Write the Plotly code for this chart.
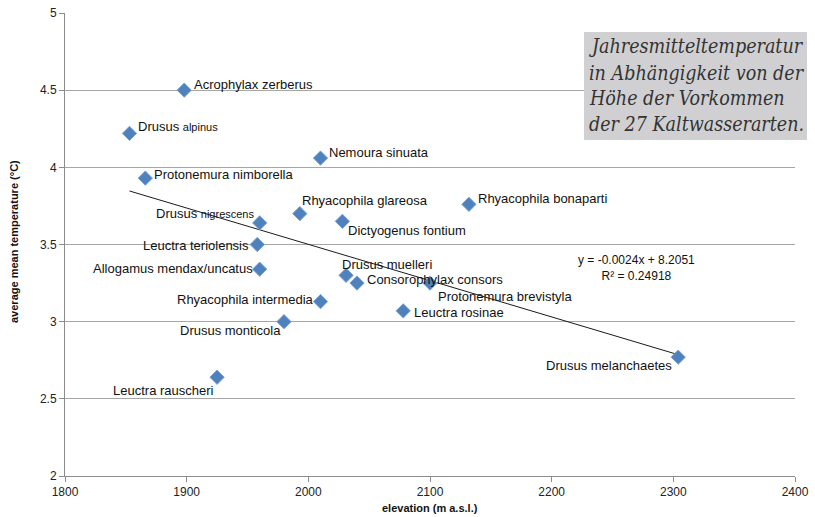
import plotly.graph_objects as go

# Species, elevation of occurrence (m a.s.l.) and average mean temperature (°C)
species = [
    "Acrophylax zerberus", "Drusus alpinus", "Protonemura nimborella",
    "Drusus nigrescens", "Leuctra teriolensis", "Allogamus mendax/uncatus",
    "Rhyacophila intermedia", "Drusus monticola", "Leuctra rauscheri",
    "Nemoura sinuata", "Rhyacophila glareosa", "Dictyogenus fontium",
    "Rhyacophila bonaparti", "Drusus muelleri", "Consorophylax consors",
    "Protonemura brevistyla", "Leuctra rosinae", "Drusus melanchaetes",
]
elevation = [1898, 1853, 1866, 1960, 1958, 1960, 2010, 1980, 1925,
             2010, 1993, 2028, 2132, 2031, 2040, 2100, 2078, 2304]
temperature = [4.50, 4.22, 3.93, 3.64, 3.50, 3.34, 3.13, 3.00, 2.64,
               4.06, 3.70, 3.65, 3.76, 3.30, 3.25, 3.25, 3.07, 2.77]

# Linear trend line
slope = -0.002352
intercept = 8.2051
r_squared = 0.24918

x_ticks = [1800, 1900, 2000, 2100, 2200, 2300, 2400]
y_ticks = [2, 2.5, 3, 3.5, 4, 4.5, 5]

caption_lines = [
    "Jahresmitteltemperatur",
    "in Abhängigkeit von der",
    "Höhe der Vorkommen",
    "der 27 Kaltwasserarten.",
]

# Label placement per species: (anchor side, xshift, yshift)
label_pos = {
    "Acrophylax zerberus": ("left", 8, 6),
    "Drusus alpinus": ("left", 7, 7),
    "Protonemura nimborella": ("left", 7, 4),
    "Drusus nigrescens": ("right", -4, 9),
    "Leuctra teriolensis": ("right", -6, -1),
    "Allogamus mendax/uncatus": ("right", -5, 1),
    "Rhyacophila intermedia": ("right", -5, 2),
    "Drusus monticola": ("right", -1, -9),
    "Leuctra rauscheri": ("right", -1, -13),
    "Nemoura sinuata": ("left", 6, 6),
    "Rhyacophila glareosa": ("left", 0, 13),
    "Dictyogenus fontium": ("left", 4, -9),
    "Rhyacophila bonaparti": ("left", 7, 6),
    "Drusus muelleri": ("left", -6, 11),
    "Consorophylax consors": ("left", 8, 4),
    "Protonemura brevistyla": ("left", 6, -13),
    "Leuctra rosinae": ("left", 9, -2),
    "Drusus melanchaetes": ("right", -4, -8),
}

small_epithet = {"Drusus alpinus", "Drusus nigrescens"}

W, H = 815, 517
ML, MR, MT, MB = 65, 20, 13, 41
plot_w = W - ML - MR
plot_h = H - MT - MB


def px_to_paper(px, py):
    return (px - ML) / plot_w, (H - MB - py) / plot_h


fig = go.Figure()

trend_x = [min(elevation), max(elevation)]
trend_y = [slope * v + intercept for v in trend_x]
fig.add_trace(go.Scatter(
    x=trend_x, y=trend_y, mode="lines",
    line=dict(color="#1a1a1a", width=1), hoverinfo="skip", showlegend=False,
))

fig.add_trace(go.Scatter(
    x=elevation, y=temperature, mode="markers",
    marker=dict(symbol="diamond", size=11, color="#4f81bd",
                line=dict(color="#7aa3d6", width=1)),
    text=species, showlegend=False,
))

label_font = dict(family="Liberation Sans, Arial, sans-serif", size=13, color="#111")
annotations = []
for name, xv, yv in zip(species, elevation, temperature):
    side, dx, dy = label_pos[name]
    if name in small_epithet:
        genus, epithet = name.split(" ", 1)
        txt = f'{genus} <span style="font-size:11px">{epithet}</span>'
    else:
        txt = name
    annotations.append(dict(
        x=xv, y=yv, xref="x", yref="y", text=txt, showarrow=False,
        xanchor=side, yanchor="middle", xshift=dx, yshift=dy, font=label_font,
    ))

annotations.append(dict(
    x=2270, y=3.24, xref="x", yref="y", showarrow=False,
    text=f"y = {slope:.4f}x + {intercept:.4f}<br>R² = {r_squared:.5f}",
    xanchor="center", yanchor="bottom", align="center",
    font=dict(family="Liberation Sans, Arial, sans-serif", size=12, color="#111"),
))

# Caption box, one annotation per line
for i, line in enumerate(caption_lines):
    cx, cy = px_to_paper(587, 47 + i * 26)
    annotations.append(dict(
        x=cx, y=cy, xref="paper", yref="paper", text=line, showarrow=False,
        xanchor="left", yanchor="middle",
        font=dict(family="DejaVu Serif Condensed, DejaVu Serif, serif", size=19.5,
                  color="#333", style="italic"),
    ))

# Axis titles
tx, ty = px_to_paper(430, 508)
annotations.append(dict(
    x=tx, y=ty, xref="paper", yref="paper", showarrow=False,
    text="<b>elevation (m a.s.l.)</b>", xanchor="center", yanchor="middle",
    font=dict(family="Liberation Sans, Arial, sans-serif", size=11, color="#111"),
))
tx, ty = px_to_paper(14, 242)
annotations.append(dict(
    x=tx, y=ty, xref="paper", yref="paper", showarrow=False, textangle=-90,
    text="<b>average mean temperature (°C)</b>", xanchor="center", yanchor="middle",
    font=dict(family="Liberation Sans, Arial, sans-serif", size=11, color="#111"),
))

bx0, by0 = px_to_paper(584, 140)
bx1, by1 = px_to_paper(807, 32)

fig.update_layout(
    width=W, height=H,
    margin=dict(l=ML, r=MR, t=MT, b=MB),
    paper_bgcolor="white", plot_bgcolor="white",
    font=dict(family="Liberation Sans, Arial, sans-serif", color="#222"),
    xaxis=dict(
        range=[1800, 2400], tickvals=x_ticks, showgrid=False, zeroline=False,
        showline=True, linecolor="#8c8c8c", linewidth=1, automargin=False,
        ticks="outside", ticklen=5, tickcolor="#8c8c8c",
        tickfont=dict(size=12, color="#222"),
    ),
    yaxis=dict(
        range=[2, 5], tickvals=y_ticks, showgrid=True, gridcolor="#a6a6a6", gridwidth=1,
        zeroline=False, showline=True, linecolor="#8c8c8c", linewidth=1, automargin=False,
        ticks="outside", ticklen=5, tickcolor="#8c8c8c",
        tickfont=dict(size=12, color="#222"),
    ),
    shapes=[dict(
        type="rect", xref="paper", yref="paper", x0=bx0, y0=by0, x1=bx1, y1=by1,
        fillcolor="#d0d0d2", line=dict(width=0), layer="above",
    )],
    annotations=annotations,
)

fig.write_html("out.html")
